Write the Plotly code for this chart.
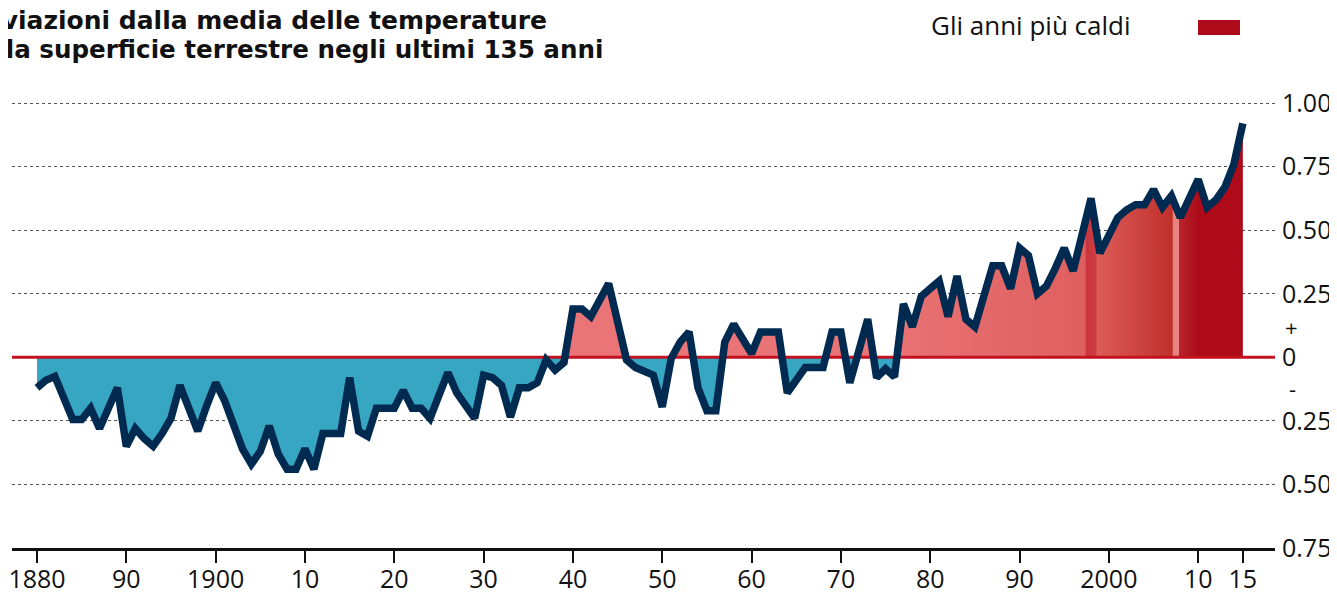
import plotly.graph_objects as go

# ---------------- data ----------------
years = list(range(1880, 2016))
anomalies = [
    -0.12, -0.09, -0.075, -0.17, -0.245, -0.245, -0.20, -0.28, -0.20, -0.12,   # 1880s
    -0.35, -0.28, -0.32, -0.35, -0.30, -0.24, -0.11, -0.20, -0.29, -0.19,      # 1890s
    -0.10, -0.17, -0.26, -0.36, -0.42, -0.37, -0.27, -0.38, -0.44, -0.44,      # 1900s
    -0.36, -0.44, -0.30, -0.30, -0.30, -0.08, -0.29, -0.31, -0.20, -0.20,      # 1910s
    -0.20, -0.13, -0.20, -0.20, -0.24, -0.15, -0.06, -0.14, -0.19, -0.24,      # 1920s
    -0.07, -0.08, -0.11, -0.235, -0.12, -0.12, -0.10, -0.01, -0.05, -0.02,     # 1930s
    0.19, 0.19, 0.16, 0.22, 0.29, 0.14, -0.01, -0.04, -0.055, -0.07,          # 1940s
    -0.195, -0.005, 0.06, 0.10, -0.12, -0.21, -0.21, 0.06, 0.13, 0.07,        # 1950s
    0.015, 0.10, 0.10, 0.10, -0.14, -0.09, -0.04, -0.04, -0.04, 0.10,         # 1960s
    0.10, -0.10, 0.03, 0.15, -0.08, -0.045, -0.077, 0.21, 0.12, 0.24,         # 1970s
    0.27, 0.30, 0.16, 0.32, 0.15, 0.12, 0.24, 0.36, 0.36, 0.27,               # 1980s
    0.43, 0.40, 0.25, 0.28, 0.35, 0.43, 0.34, 0.48, 0.625, 0.41,              # 1990s
    0.48, 0.55, 0.58, 0.60, 0.60, 0.66, 0.59, 0.635, 0.55, 0.63,              # 2000s
    0.70, 0.59, 0.62, 0.67, 0.76, 0.92,                                       # 2010-2015
]

x_tickvals = [1880, 1890, 1900, 1910, 1920, 1930, 1940, 1950, 1960, 1970,
              1980, 1990, 2000, 2010, 2015]
x_ticktext = ["1880", "90", "1900", "10", "20", "30", "40", "50", "60", "70",
              "80", "90", "2000", "10", "15"]
y_tickvals = [1.0, 0.75, 0.5, 0.25, 0, -0.25, -0.5, -0.75]
y_ticktext = ["1.00", "0.75", "0.50", "0.25", "0", "0.25", "0.50", "0.75"]

title_lines = ["Deviazioni dalla media delle temperature",
               "della superficie terrestre negli ultimi 135 anni"]
legend_label = "Gli anni più caldi"

# ---------------- style / layout (screen pixels) ----------------
OFF = 8                      # page body margin
SCREEN_W, SCREEN_H = 1337, 596
W, H = SCREEN_W - OFF, SCREEN_H - OFF
PLOT_L, PLOT_R, PLOT_T, PLOT_B = 12, 1275, 98, 548
ML = PLOT_L - OFF
MR = W - (PLOT_R - OFF)
MT = PLOT_T - OFF
MB = H - (PLOT_B - OFF)
PW, PH = PLOT_R - PLOT_L, PLOT_B - PLOT_T
X_RANGE = [1877.2, 2018.6]
Y_RANGE = [-0.75, 1.02]

NAVY = "#012a51"
BLUE = "#37a6c2"
PINK = "#ec7579"
DARKRED = "#ad0b1a"
ZERO_RED = "#c2121f"
TEXT = "#111111"
FONT = "Open Sans"
FS = 25

GRAD = [(1880, "#ec7579"), (1975, "#ea7375"), (1997.35, "#de5f5e"),
        (1997.45, "#c9343e"), (1998.55, "#cd3d42"), (1998.7, "#dc5c58"),
        (2007.1, "#c0302b"), (2007.2, "#e98382"), (2007.8, "#e98382"),
        (2007.9, "#b8242a"), (2010, DARKRED), (2015, DARKRED)]
g0, g1 = GRAD[0][0], GRAD[-1][0]
colorscale = [[(yr - g0) / (g1 - g0), c] for yr, c in GRAD]


def split_sign(xs, vs):
    px, py, nx, ny = [], [], [], []
    for i in range(len(xs)):
        x, v = xs[i], vs[i]
        px.append(x); py.append(max(v, 0))
        nx.append(x); ny.append(min(v, 0))
        if i < len(xs) - 1:
            v2 = vs[i + 1]
            if (v < 0 < v2) or (v > 0 > v2):
                t = v / (v - v2)
                xc = x + t * (xs[i + 1] - x)
                px.append(xc); py.append(0)
                nx.append(xc); ny.append(0)
    return px, py, nx, ny


px_, py_, nx_, ny_ = split_sign(years, anomalies)

fig = go.Figure()
fig.add_trace(go.Scatter(x=nx_, y=ny_, mode="lines", fill="tozeroy",
                         fillcolor=BLUE, line=dict(width=0), hoverinfo="skip"))
fig.add_trace(go.Scatter(x=px_, y=py_, mode="lines", fill="tozeroy",
                         fillcolor=PINK, line=dict(width=0),
                         fillgradient=dict(type="horizontal", start=g0, stop=g1,
                                           colorscale=colorscale),
                         hoverinfo="skip"))
# zero reference line (between fills and series line)
fig.add_trace(go.Scatter(x=X_RANGE, y=[0, 0], mode="lines",
                         line=dict(color=ZERO_RED, width=3), hoverinfo="skip"))
fig.add_trace(go.Scatter(x=years, y=anomalies, mode="lines",
                         line=dict(color=NAVY, width=7.5)))


def sx(p):   # screen px -> paper x
    return (p - PLOT_L) / PW


def sy(p):   # screen px -> paper y
    return (PLOT_B - p) / PH


annotations = [
    dict(text="<b>" + title_lines[0] + "</b>", xref="paper", yref="paper",
         x=sx(549), y=sy(20), xanchor="right", yanchor="middle",
         showarrow=False, font=dict(family="DejaVu Sans", size=25, color=TEXT)),
    dict(text="<b>" + title_lines[1] + "</b>", xref="paper", yref="paper",
         x=sx(605), y=sy(50), xanchor="right", yanchor="middle",
         showarrow=False, font=dict(family="DejaVu Sans", size=24.6, color=TEXT)),
    dict(text=legend_label, xref="paper", yref="paper",
         x=sx(929), y=sy(25), xanchor="left", yanchor="middle",
         showarrow=False, font=dict(family=FONT, size=26, color=TEXT)),
    dict(text="+", xref="paper", yref="y", x=sx(1283), y=0.12,
         xanchor="left", yanchor="middle", showarrow=False,
         font=dict(family=FONT, size=22, color=TEXT)),
    dict(text="-", xref="paper", yref="y", x=sx(1287), y=-0.12,
         xanchor="left", yanchor="middle", showarrow=False,
         font=dict(family=FONT, size=22, color=TEXT)),
]

shapes = [
    dict(type="rect", xref="paper", yref="paper",
         x0=sx(1198), x1=sx(1240), y0=sy(35), y1=sy(20),
         fillcolor=DARKRED, line=dict(width=0)),
]

fig.update_layout(
    width=W, height=H,
    margin=dict(l=ML, r=MR, t=MT, b=MB, pad=0, autoexpand=False),
    paper_bgcolor="white", plot_bgcolor="white",
    showlegend=False,
    font=dict(family=FONT, size=FS, color=TEXT),
    annotations=annotations, shapes=shapes,
    xaxis=dict(range=X_RANGE, tickvals=x_tickvals, ticktext=x_ticktext,
               showgrid=False, zeroline=False, showline=True, automargin=False,
               linecolor=TEXT, linewidth=3, ticks="outside", ticklen=12,
               tickwidth=2, tickcolor=TEXT, ticklabeloverflow="allow",
               ticklabelstandoff=-5,
               tickfont=dict(family=FONT, size=FS, color=TEXT)),
    yaxis=dict(range=Y_RANGE, side="right", tickvals=y_tickvals,
               ticktext=y_ticktext, showgrid=True, gridcolor="#555",
               griddash="dot", gridwidth=1, zeroline=False, showline=False,
               automargin=False, ticks="", ticklabelstandoff=6,
               ticklabeloverflow="allow",
               tickfont=dict(family=FONT, size=FS, color=TEXT)),
)

fig.write_html("out.html")
